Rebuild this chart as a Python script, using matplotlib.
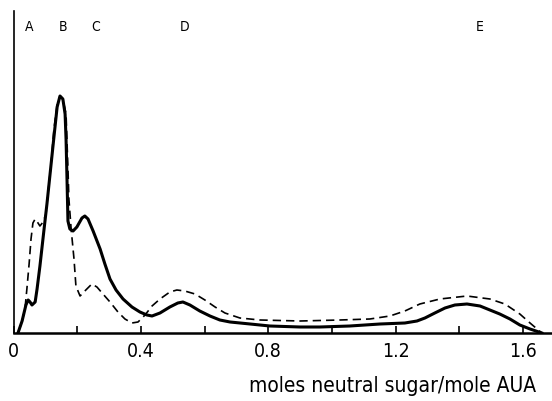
import matplotlib
matplotlib.use("Agg")
from matplotlib import pyplot as plt

# neutral sugar / uronic acid ratio (x) against detector response (arbitrary units)
x_solid = [0.014, 0.027, 0.039, 0.046, 0.052, 0.058, 0.068, 0.074, 0.083, 0.096,
           0.105, 0.124, 0.137, 0.146, 0.155, 0.162, 0.165, 0.168, 0.171, 0.177,
           0.187, 0.199, 0.215, 0.224, 0.234, 0.250, 0.272, 0.287, 0.303, 0.322,
           0.344, 0.372, 0.397, 0.419, 0.435, 0.460, 0.491, 0.516, 0.532, 0.554,
           0.585, 0.617, 0.648, 0.680, 0.743, 0.805, 0.900, 0.962, 1.056, 1.151,
           1.229, 1.267, 1.292, 1.323, 1.355, 1.386, 1.424, 1.465, 1.496, 1.527,
           1.559, 1.590, 1.622, 1.659]
y_solid = [0, 12, 28, 33, 31, 28, 31, 44, 67, 104,
           129, 187, 226, 237, 234, 219, 194, 154, 112, 104,
           102, 106, 115, 117, 114, 102, 84, 69, 54, 43,
           34, 26, 21, 18, 17, 20, 26, 30, 31, 28,
           22, 17, 13, 11, 9, 7, 6, 6, 7, 9,
           10, 12, 15, 20, 25, 28, 29, 27, 23, 19,
           14, 8, 4, 0]

x_dashed = [0.014, 0.027, 0.036, 0.042, 0.049, 0.055, 0.061, 0.068, 0.077, 0.083,
            0.093, 0.102, 0.108, 0.118, 0.127, 0.137, 0.146, 0.155, 0.165, 0.171,
            0.174, 0.181, 0.190, 0.196, 0.209, 0.224, 0.246, 0.262, 0.281, 0.303,
            0.328, 0.350, 0.372, 0.391, 0.413, 0.435, 0.460, 0.491, 0.513, 0.538,
            0.570, 0.601, 0.633, 0.664, 0.711, 0.774, 0.900, 1.025, 1.119, 1.182,
            1.229, 1.276, 1.339, 1.424, 1.496, 1.543, 1.590, 1.622, 1.659]
y_dashed = [0, 12, 24, 44, 69, 94, 110, 114, 110, 107,
            111, 119, 139, 169, 204, 228, 237, 234, 219, 164,
            134, 104, 74, 47, 37, 42, 49, 46, 39, 31,
            21, 14, 10, 11, 18, 27, 34, 41, 43, 42,
            39, 33, 26, 20, 15, 13, 12, 13, 14, 17,
            22, 29, 34, 37, 34, 29, 19, 10, 0]

peak_names = ["A", "B", "C", "D", "E"]
peak_pos = [0.049, 0.155, 0.259, 0.538, 1.465]

x_ticks = [0, 0.4, 0.8, 1.2, 1.6]
x_tick_labels = ["0", "0.4", "0.8", "1.2", "1.6"]
x_minor = [0.2, 0.6, 1.0, 1.4]

plt.rcParams["font.family"] = ["DejaVu Sans"]
plt.rcParams["font.stretch"] = "condensed"

fig = plt.figure(figsize=(5.52, 4.02), dpi=100)
ax = fig.add_axes([13.5 / 552, 68 / 402, 538.5 / 552, 322 / 402])

ax.plot(x_solid, y_solid, color="black", lw=2.2, solid_joinstyle="round")
ax.plot(x_dashed, y_dashed, color="black", lw=1.2, dashes=(5, 3))

ax.set_xlim(0, 1.691)
ax.set_ylim(0, 322)

for s in ["top", "right"]:
    ax.spines[s].set_visible(False)
ax.spines["bottom"].set_linewidth(1.8)
ax.spines["left"].set_linewidth(1.2)

ax.set_yticks([])
ax.set_xticks(x_ticks)
ax.set_xticklabels(x_tick_labels)
ax.set_xticks(x_minor, minor=True)
ax.tick_params(axis="x", which="both", direction="in", length=5, width=1.2,
               labelsize=14, pad=6)

for name, pos in zip(peak_names, peak_pos):
    ax.text(pos, 307, name, ha="center", va="center", fontsize=10)

fig.text(536 / 552, 16 / 402, "moles neutral sugar/mole AUA", ha="right",
         va="center", fontsize=15)

fig.savefig("out.png", dpi=100)
